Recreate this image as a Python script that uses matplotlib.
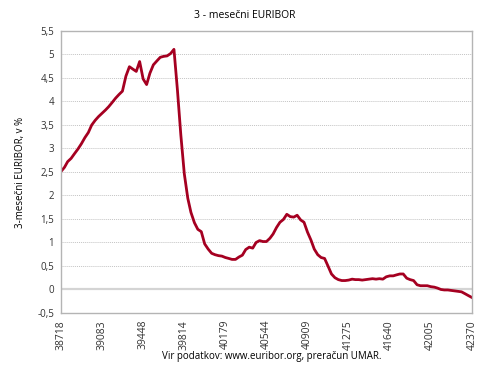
import matplotlib.pyplot as plt
import numpy as np

# monthly averages, Jan 2006 .. Jan 2016
rate_2006 = [2.51, 2.60, 2.72, 2.79, 2.89, 2.99, 3.10, 3.23, 3.34, 3.50, 3.60, 3.68]
rate_2007 = [3.75, 3.82, 3.89, 3.98, 4.07, 4.15, 4.22, 4.54, 4.74, 4.69, 4.64, 4.85]
rate_2008 = [4.48, 4.36, 4.60, 4.78, 4.86, 4.94, 4.96, 4.97, 5.02, 5.11, 4.24, 3.29]
rate_2009 = [2.46, 1.94, 1.64, 1.42, 1.28, 1.23, 0.97, 0.86, 0.77, 0.74, 0.72, 0.71]
rate_2010 = [0.68, 0.66, 0.64, 0.64, 0.69, 0.73, 0.85, 0.90, 0.88, 1.00, 1.04, 1.02]
rate_2011 = [1.02, 1.09, 1.18, 1.32, 1.43, 1.49, 1.60, 1.55, 1.54, 1.58, 1.48, 1.43]
rate_2012 = [1.22, 1.05, 0.86, 0.74, 0.68, 0.66, 0.50, 0.33, 0.25, 0.21, 0.19, 0.19]
rate_2013 = [0.20, 0.22, 0.21, 0.21, 0.20, 0.21, 0.22, 0.23, 0.22, 0.23, 0.22, 0.27]
rate_2014 = [0.29, 0.29, 0.31, 0.33, 0.33, 0.24, 0.21, 0.19, 0.10, 0.08, 0.08, 0.08]
rate_2015 = [0.06, 0.05, 0.03, 0.00, -0.01, -0.01, -0.02, -0.03, -0.04, -0.05, -0.09, -0.13]
rate_2016 = [-0.17]

xticks = [38718, 39083, 39448, 39814, 40179, 40544, 40909, 41275, 41640, 42005, 42370]

rates = (rate_2006 + rate_2007 + rate_2008 + rate_2009 + rate_2010 + rate_2011
         + rate_2012 + rate_2013 + rate_2014 + rate_2015 + rate_2016)

# Excel serial of first day of each month
dates = np.arange('2006-01', '2016-02', dtype='datetime64[M]').astype('datetime64[D]')
serials = (dates - np.datetime64('1899-12-30')).astype(int)

plt.rcParams['font.family'] = ['Open Sans', 'DejaVu Sans']

fig = plt.figure(figsize=(4.9, 3.78), dpi=100)
ax = fig.add_axes([0.1245, 0.172, 0.8385, 0.746])

ax.plot(serials, rates, color='#A50021', linewidth=2.0, solid_joinstyle='round')

ax.set_xlim(38718, 42370)
ax.set_ylim(-0.5, 5.5)
yt = np.arange(-0.5, 5.51, 0.5)
ax.set_yticks(yt)
ax.set_yticklabels([f'{v:g}'.replace('.', ',') for v in yt], fontsize=7)
ax.set_xticks(xticks)
ax.set_xticklabels([str(t) for t in xticks], rotation=90, fontsize=7.5)
ax.tick_params(length=0, pad=5, colors='#333333')

for v in yt[1:-1]:
    if abs(v) < 1e-9:
        ax.axhline(v, color='#d4d4d4', linewidth=1.6, zorder=0)
    else:
        ax.axhline(v, color='#c4c4c4', linewidth=0.7, linestyle=(0, (1, 1)), zorder=0)

for s in ax.spines.values():
    s.set_color('#b4b4b4')
    s.set_linewidth(1.0)

fig.text(0.5, 0.958, '3 - mesečni EURIBOR', ha='center', va='center', fontsize=7.5)
ax.set_ylabel('3-mesečni EURIBOR, v %', fontsize=7, labelpad=8)
fig.text(0.555, 0.058, 'Vir podatkov: www.euribor.org, preračun UMAR.',
         ha='center', va='center', fontsize=7)

fig.savefig('out.png', dpi=100)
